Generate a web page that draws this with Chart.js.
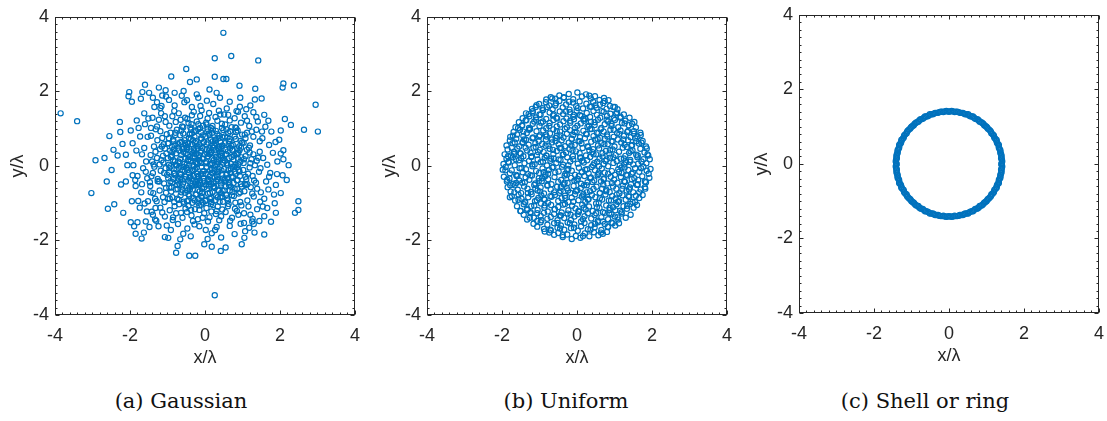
<!DOCTYPE html>
<html>
<head>
<meta charset="utf-8">
<script src="https://cdn.jsdelivr.net/npm/chart.js@4.4.1/dist/chart.umd.min.js"></script>
<style>
  body { margin: 0; background: #fff; width: 1107px; height: 421px; position: relative; overflow: hidden; }
  .panel { position: absolute; width: 370px; height: 369px; }
  .caption { position: absolute; top: 388px; font: 21px "DejaVu Serif", serif; line-height: 26px; color: #111; transform: translateX(-50%); white-space: nowrap; }
</style>
</head>
<body>
<div class="panel" style="left:0;top:0"><canvas id="c1" width="370" height="369"></canvas></div>
<div class="panel" style="left:372px;top:0"><canvas id="c2" width="370" height="369"></canvas></div>
<div class="panel" style="left:744px;top:-2px"><canvas id="c3" width="370" height="369"></canvas></div>
<div class="caption" id="cap1" style="left:181px"></div>
<div class="caption" id="cap2" style="left:566px"></div>
<div class="caption" id="cap3" style="left:925px"></div>
<script>
// axis ticks and captions
const tickValues = [-4, -2, 0, 2, 4];
const captions = ['(a) Gaussian', '(b) Uniform', '(c) Shell or ring'];

// (a) gaussian cloud: sparse tail points, then the dense middle
const gaussianTail = [
  [-3.85,1.41],[-3.41,1.20],[-2.92,.15],[-3.03,-.73],[-2.68,.21],[-2.62,-.42],[-2.55,.80],[-2.49,-.11],[-2.59,-1.15],[-2.42,-1.03],
  [-2.44,.43],[-2.33,.28],[-2.27,1.18],[-2.24,-.50],[-2.20,.59],[-2.18,-1.26],[-2.11,.30],[-2.11,-.42],[-2.07,.02],[-2.02,1.98],
  [-2.04,1.87],[-1.95,1.72],[-1.98,.95],[-1.95,-.95],[-1.98,-1.51],[-1.89,-1.62],[-1.85,-1.82],[-1.69,-1.95],[-1.63,-1.79],[-1.80,-1.51],
  [-1.67,1.98],[-1.60,2.18],[-1.71,1.80],[-1.49,1.96],[-1.93,-.25],[-1.85,-.54],[-1.78,-.94],[-1.58,-1.49],[-1.48,-1.64],[-1.39,-1.31],
  [-1.32,-1.13],[-1.23,2.10],[-1.14,1.89],[-1.05,2.03],[-1.04,1.86],[-1.16,1.61],[-1.39,1.83],[-.90,2.40],[-.81,1.96],[-.57,2.01],
  [-.50,2.60],[-.48,1.76],[-.40,2.25],[-.22,2.32],[-.18,1.83],[.26,2.89],[.49,3.57],[.70,2.95],[.26,2.39],[.49,2.33],
  [.57,2.33],[1.42,2.83],[1.34,2.07],[1.51,1.81],[2.09,2.21],[2.07,2.10],[2.37,2.16],[2.13,1.26],[2.29,1.10],[2.95,1.64],
  [2.64,.97],[3.01,.92],[2.02,.95],[1.98,.70],[2.09,.42],[2.02,.33],[2.09,.18],[2.18,-.38],[2.07,-.25],[2.02,-.73],
  [1.89,-.51],[1.86,-1.00],[1.89,-1.26],[1.76,-1.50],[1.58,-1.84],[1.58,-1.35],[1.54,-1.09],[2.40,-1.26],[2.49,-.95],[2.49,-1.18],
  [.26,-3.47],[-.42,-2.41],[-.26,-2.41],[.42,-2.28],[.55,-2.19],[.18,-2.17],[-.02,-2.10],[-.73,-2.15],[-.66,-1.97],[-1.07,-1.91],
  [-.98,-1.93],[.98,-2.10],[1.05,-1.93],[1.32,-1.79],[1.07,-1.75],[1.30,-1.56],[1.04,-1.53],
  [1.55,.21],[1.63,-.42],[1.71,.56],[1.58,-.88],[1.66,.03],[1.74,-.19],[1.53,.74],[1.81,.35],[1.61,1.05],[1.69,-.63],
  [-1.54,-.33],[-1.62,.48],[-1.70,-.71],[-1.57,.12],[-1.65,-.06],[-1.73,.79],[-1.52,-.95],[-1.80,-.27],[-1.60,1.12],[-1.68,.31],
  [-.35,1.58],[.22,1.66],[-.81,1.62],[.58,1.54],[.05,1.75],[-.12,1.61],[.93,1.59],[-.55,1.71],[.40,1.83],[1.10,1.52],
  [-.28,-1.57],[.31,-1.64],[-.72,-1.56],[.66,-1.61],[.02,-1.72],[-.47,-1.68],[.95,-1.55],[-1.02,-1.60],[.18,-1.81],[-.15,-1.62]
];
const gaussianMid = [
  [-1.62,1.41],[-1.35,1.58],[-1.82,1.22],[-1.51,1.27],[-1.28,1.71],[-1.93,.61],[-1.77,1.02],[-1.44,1.02],[-1.19,1.55],[-.96,1.77],
  [-1.86,-.38],[-1.74,-1.12],[-1.55,-1.22],[-1.68,-.49],[-1.91,.02],[-1.24,-1.62],[-.91,-1.72],[-1.61,-1.01],[-1.83,.41],[-1.45,-.71],
  [.66,1.72],[1.21,1.62],[.94,1.83],[1.58,1.37],[1.77,.92],[1.88,.64],[1.33,1.78],[.31,1.96],[-.22,1.92],[1.69,1.21],
  [1.92,-.22],[1.84,-.77],[1.66,-1.13],[1.45,-1.48],[1.18,-1.66],[.79,-1.83],[.43,-1.92],[-.38,-1.89],[1.93,.12],[1.71,-.29],
  [-.62,1.88],[.12,2.05],[-1.07,1.33],[.84,1.47],[1.52,.92],[1.49,-.71],[.27,-1.72],[-.85,-1.38],[-1.53,.78],[-1.58,-.16],
  [.51,1.38],[1.37,1.31],[-1.33,-1.44],[.07,-1.96],[1.26,-1.49],[-.58,-1.82],[2.23,.02],[-2.26,.91],[.92,2.15],[-.77,-2.33]
];
const gaussianCore = [
  [.03,.12],[.11,.41],[.19,.07],[.27,.33],[.36,.18],[.44,.46],[.08,.26],[.15,.02],[.22,.49],[.31,.11],[.39,.37],[.47,.21],[.05,.44],[.13,.31],[.24,.16],[.33,.04],[.41,.28],[.49,.09],[.17,.38],[.29,.24],[.37,.47],[.45,.34],
  [-.04,.19],[-.12,.36],[-.21,.05],[-.29,.42],[-.38,.14],[-.46,.29],[-.07,.48],[-.16,.23],[-.25,.10],[-.33,.34],[-.42,.01],[-.49,.45],[-.02,.31],[-.10,.08],[-.19,.47],[-.28,.26],[-.36,.39],[-.44,.17],[-.14,.13],[-.23,.32],[-.31,.02],[-.40,.24],
  [-.06,-.15],[-.14,-.39],[-.22,-.04],[-.31,-.27],[-.39,-.46],[-.47,-.11],[-.03,-.33],[-.11,-.22],[-.19,-.48],[-.27,-.09],[-.35,-.36],[-.43,-.19],[-.09,-.02],[-.17,-.29],[-.26,-.43],[-.34,-.14],[-.41,-.31],[-.49,-.05],[-.13,-.45],[-.21,-.21],[-.30,-.01],[-.45,-.40],
  [.02,-.21],[.10,-.44],[.18,-.06],[.26,-.30],[.35,-.17],[.43,-.42],[.07,-.37],[.14,-.12],[.23,-.47],[.31,-.25],[.40,-.03],[.48,-.34],[.04,-.03],[.12,-.28],[.20,-.20],[.29,-.41],[.37,-.09],[.46,-.23],[.16,-.49],[.25,-.14],[.33,-.36],[.42,-.47],
  [.04,.58],[.12,.83],[.21,.66],[.29,.94],[.38,.52],[.46,.77],[.07,.99],[.16,.71],[.25,.55],[.33,.86],[.42,.63],[.49,.96],[.01,.79],[.19,.89],[.28,.61],[.36,.74],[.45,.54],
  [-.03,.64],[-.11,.91],[-.20,.53],[-.28,.78],[-.37,.97],[-.45,.60],[-.06,.82],[-.15,.57],[-.24,.93],[-.32,.69],[-.41,.84],[-.48,.51],[-.09,.73],[-.18,.98],[-.27,.62],[-.35,.87],[-.43,.75],
  [.05,-.62],[.13,-.88],[.22,-.55],[.30,-.79],[.39,-.96],[.47,-.67],[.08,-.74],[.17,-.97],[.26,-.59],[.34,-.84],[.43,-.52],[.02,-.91],[.11,-.53],[.20,-.70],[.28,-.92],[.37,-.65],[.46,-.82],
  [-.02,-.57],[-.10,-.81],[-.18,-.64],[-.27,-.93],[-.35,-.54],[-.44,-.76],[-.06,-.98],[-.14,-.68],[-.23,-.51],[-.31,-.86],[-.40,-.62],[-.48,-.95],[-.08,-.73],[-.17,-.89],[-.25,-.77],[-.34,-.99],[-.42,-.58],
  [.53,.14],[.61,.39],[.69,.06],[.78,.28],[.86,.47],[.94,.11],[.56,.32],[.64,.21],[.73,.44],[.81,.02],[.89,.35],[.97,.23],[.59,.03],[.67,.48],[.76,.17],[.84,.31],[.92,.42],
  [-.52,.22],[-.60,.46],[-.68,.09],[-.77,.34],[-.85,.16],[-.93,.41],[-.55,.05],[-.63,.29],[-.72,.49],[-.80,.12],[-.88,.27],[-.96,.03],[-.58,.38],[-.66,.19],[-.75,.01],[-.83,.44],[-.91,.24],
  [.51,-.08],[.60,-.33],[.68,-.19],[.76,-.46],[.85,-.04],[.93,-.27],[.54,-.41],[.62,-.12],[.71,-.29],[.79,-.15],[.87,-.38],[.96,-.49],[.57,-.24],[.65,-.47],[.74,-.02],[.82,-.21],[.90,-.11],
  [-.54,-.13],[-.62,-.37],[-.70,-.05],[-.79,-.26],[-.87,-.44],[-.95,-.17],[-.51,-.29],[-.59,-.48],[-.67,-.22],[-.76,-.09],[-.84,-.35],[-.92,-.01],[-.57,-.03],[-.65,-.31],[-.73,-.42],[-.81,-.19],[-.98,-.33],
  [.53,.61],[.62,.88],[.70,.54],[.79,.79],[.87,.95],[.95,.67],[.57,.98],[.66,.72],[.74,.57],[.83,.91],[.91,.52],[.99,.84],[.60,.76],
  [-.54,.69],[-.63,.95],[-.71,.58],[-.80,.82],[-.88,.51],[-.96,.74],[-.58,.87],[-.67,.63],[-.75,.97],[-.84,.66],[-.92,.89],[-.51,.55],[-.99,.60],
  [.52,-.66],[.61,-.93],[.69,-.56],[.77,-.81],[.86,-.61],[.94,-.97],[.56,-.78],[.64,-.52],[.73,-.70],[.81,-.99],[.90,-.74],[.98,-.55],[.59,-.87],
  [-.53,-.72],[-.61,-.55],[-.70,-.91],[-.78,-.63],[-.87,-.84],[-.95,-.58],[-.57,-.96],[-.65,-.79],[-.74,-.51],[-.82,-.97],[-.90,-.69],[-.99,-.88],[-.60,-.64],
  [1.04,.18],[1.12,.43],[1.21,.07],[1.29,.31],[1.38,.14],[1.46,.38],[1.08,.26],[1.17,.49],[1.33,.02],[1.42,.22],
  [-1.03,.33],[-1.11,.09],[-1.20,.45],[-1.28,.21],[-1.37,.04],[-1.45,.29],[-1.07,.47],[-1.16,.15],[-1.32,.38],[-1.41,.12],
  [1.02,-.11],[1.10,-.36],[1.19,-.04],[1.27,-.27],[1.36,-.45],[1.44,-.16],[1.06,-.48],[1.15,-.21],[1.31,-.39],[1.48,-.06],
  [-1.01,-.24],[-1.09,-.47],[-1.18,-.13],[-1.26,-.35],[-1.35,-.02],[-1.43,-.28],[-1.05,-.06],[-1.22,-.42],[-1.39,-.19],[-1.47,-.44],
  [.03,1.16],[.11,1.42],[.20,1.07],[.28,1.31],[.37,1.48],[.45,1.13],[.07,1.27],[.16,1.02],[.33,1.21],[.41,1.38],
  [-.05,1.08],[-.13,1.34],[-.22,1.19],[-.30,1.45],[-.39,1.03],[-.47,1.26],[-.09,1.49],[-.18,1.12],[-.35,1.36],[-.44,1.15],
  [.04,-1.13],[.12,-1.38],[.21,-1.05],[.29,-1.29],[.38,-1.46],[.46,-1.17],[.08,-1.49],[.17,-1.22],[.34,-1.09],[.43,-1.35],
  [-.02,-1.27],[-.10,-1.04],[-.19,-1.43],[-.27,-1.16],[-.36,-1.33],[-.44,-1.07],[-.06,-1.39],[-.15,-1.18],[-.32,-1.48],[-.48,-1.24],
  [1.03,.62],[1.12,.89],[1.20,.55],[1.29,.78],[1.37,.97],[1.46,.66],[1.08,.74],[1.25,.92],
  [-1.02,.85],[-1.10,.58],[-1.19,.93],[-1.27,.69],[-1.36,.52],[-1.44,.81],[-1.14,.75],[-1.31,.98],
  [1.05,-.68],[1.13,-.93],[1.22,-.57],[1.30,-.82],[1.39,-.61],[1.47,-.96],[1.09,-.51],[1.26,-.74],
  [-1.04,-.59],[-1.12,-.84],[-1.21,-.66],[-1.29,-.95],[-1.38,-.73],[-1.46,-.54],[-1.08,-.97],[-1.33,-.88],
  [.54,1.11],[.62,1.37],[.71,1.04],[.79,1.28],[.88,1.45],[.96,1.16],[.66,1.22],[.83,1.02],
  [-.53,1.29],[-.61,1.06],[-.70,1.41],[-.78,1.18],[-.87,1.33],[-.95,1.08],[-.65,1.24],[-.82,1.47],
  [.55,-1.24],[.63,-1.02],[.72,-1.39],[.80,-1.15],[.89,-1.31],[.97,-1.06],[.67,-1.47],[.85,-1.21],
  [-.52,-1.14],[-.60,-1.39],[-.69,-1.03],[-.77,-1.27],[-.86,-1.45],[-.94,-1.19],[-.64,-1.26],[-.81,-1.08],
  [1.06,1.33],[1.18,1.07],[1.29,1.44],[1.41,1.19],[1.12,1.21],
  [-1.05,1.18],[-1.17,1.41],[-1.28,1.06],[-1.40,1.29],[-1.23,1.24],
  [1.04,-1.27],[1.16,-1.09],[1.27,-1.42],[1.39,-1.16],[1.21,-1.31],
  [-1.07,-1.36],[-1.19,-1.12],[-1.30,-1.47],[-1.42,-1.23],[-1.14,-1.25]
];
const gaussianInner = [
  [.14,.05],[-.33,.21],[.52,-.37],[-.08,-.61],[.27,.68],[-.71,.12],[.88,.19],[-.19,-.27],[.41,-.84],[-.56,.47],
  [.06,.33],[-.92,-.41],[.63,.58],[-.27,.95],[.18,-.18],[-.47,-.66],[1.08,-.29],[-.12,.52],[.35,.09],[-.64,-.23],
  [.79,-.61],[-.38,.72],[.01,-.94],[.57,.31],[-1.12,.27],[.24,-.56],[-.21,.08],[.96,.49],[-.79,.89],[.45,1.02],
  [-.03,-.41],[.69,-.08],[-.58,1.04],[.11,.87],[-.95,-.06],[.33,-.29],[-.44,-.93],[.82,.72],[-.16,.29],[1.19,.36],
  [-.68,-.48],[.49,.16],[-.31,-.12],[.04,1.11],[-.87,.37],[.61,-1.08],[-.23,-.77],[.74,.41],[-1.04,-.72],[.29,.42],
  [-.49,.03],[.13,-.72],[.92,-.15],[-.35,.58],[.55,-.55],[-.74,-.88],[.07,.63],[-.15,-1.06],[.38,.81],[-1.21,.04],
  [.85,-.39],[-.52,.32],[.19,.21],[-.06,-.22],[.67,.93],[-.83,-.21],[.31,-1.21],[-.41,.86],[1.03,.08],[-.26,-.49],
  [.47,.54],[-.62,.64],[.09,-.35],[-.98,.61],[.72,-.79],[-.11,.74],[.26,.02],[-.37,-1.18],[.58,-.21],[-.69,.41],
  [.16,-1.02],[-.29,.39],[.99,.63],[-.54,-.36],[.42,.27],[-.17,-.51],[.78,-.02],[-1.09,-.19],[.21,.98],[-.45,.15],
  [.64,-.44],[-.81,.55],[.02,.07],[-.24,.66],[.36,-.67],[-.63,-.71],[.86,.33],[-.09,-.83],[.53,.79],[-1.15,.52],
  [.23,-.43],[-.39,-.28],[.71,.24],[-.13,1.02],[1.13,-.49],[-.77,.02],[.44,-.12],[-.56,-1.01],[.12,.48],[-.33,-.63],
  [.94,-.71],[-.66,.82],[.29,.71],[-.02,-.14],[.59,.07],[-.89,-.58],[.17,-.86],[-.48,.49],[.81,1.03],[-.20,-.36],
  [.37,.44],[-.71,-.34],[.06,.92],[-.99,.21],[.66,-.66],[-.27,.22],[1.24,.18],[-.42,-.81],[.48,-.96],[-.10,.40],
  [.20,.55],[-.60,-.11],[.75,-.30],[-.36,1.12],[.03,-.50],[-.85,.71],[.54,.43],[-.18,-.99],[1.06,.84],[-1.26,-.41],
  [.32,-.16],[-.53,.61],[.89,.04],[-.07,.19],[.43,-.73],[-.73,-.62],[.15,.36],[-.30,.47],[.65,.66],[-.94,-.88]
];

// (b) uniform disk, radius 2 (x and y listed band by band, then extra fill points)
const uniformX = [
  -1.96,-1.88,-1.83,-1.71,-1.66,-1.55,-1.49,-1.40,-1.28,-1.22,-1.13,-1.05,-.97,-.86,-.80,-.71,-.62,-.55,-.44,-.37,-.26,-.18,-.10,.02,.09,.18,.27,.35,.43,.54,.60,.71,.79,.88,.97,1.06,1.14,1.25,1.31,1.42,1.50,1.61,1.72,1.85,1.94,
  -1.98,-1.90,-1.79,-1.74,-1.62,-1.53,-1.45,-1.36,-1.30,-1.19,-1.09,-1.01,-.92,-.84,-.75,-.66,-.58,-.49,-.40,-.31,-.23,-.14,-.05,.05,.13,.22,.31,.39,.48,.57,.66,.74,.83,.93,1.01,1.10,1.19,1.27,1.37,1.46,1.55,1.66,1.77,1.86,1.96,
  -1.93,-1.85,-1.76,-1.68,-1.59,-1.50,-1.43,-1.33,-1.24,-1.16,-1.07,-.99,-.89,-.81,-.73,-.63,-.54,-.46,-.38,-.29,-.20,-.11,-.03,.07,.15,.24,.33,.41,.51,.59,.68,.77,.86,.95,1.03,1.12,1.22,1.29,1.39,1.48,1.58,1.69,1.80,1.90,
  -1.95,-1.87,-1.80,-1.70,-1.61,-1.54,-1.46,-1.37,-1.27,-1.20,-1.11,-1.02,-.94,-.85,-.77,-.68,-.60,-.50,-.42,-.33,-.25,-.16,-.07,.02,.11,.20,.28,.37,.46,.55,.64,.72,.81,.90,.99,1.08,1.17,1.26,1.34,1.44,1.53,1.63,1.74,1.84,1.93,
  -1.88,-1.79,-1.72,-1.62,-1.54,-1.45,-1.36,-1.29,-1.19,-1.10,-1.02,-.93,-.83,-.76,-.67,-.57,-.49,-.41,-.32,-.22,-.14,-.06,.04,.12,.21,.30,.38,.48,.56,.65,.74,.82,.92,1.00,1.09,1.18,1.27,1.36,1.45,1.55,1.65,1.75,1.84,
  -1.85,-1.77,-1.66,-1.58,-1.49,-1.41,-1.32,-1.23,-1.14,-1.05,-.97,-.88,-.79,-.70,-.61,-.53,-.44,-.35,-.27,-.18,-.09,.01,.10,.17,.26,.35,.44,.52,.61,.70,.78,.87,.96,1.05,1.13,1.22,1.32,1.41,1.50,1.60,1.70,1.81,
  -1.78,-1.69,-1.60,-1.52,-1.43,-1.34,-1.25,-1.17,-1.08,-.99,-.90,-.81,-.72,-.63,-.54,-.45,-.36,-.27,-.19,-.10,-.01,.08,.17,.26,.35,.44,.53,.62,.71,.80,.89,.98,1.07,1.16,1.25,1.34,1.43,1.52,1.61,1.70,
  -1.74,-1.65,-1.56,-1.48,-1.38,-1.30,-1.21,-1.12,-1.03,-.95,-.86,-.77,-.68,-.59,-.50,-.41,-.32,-.23,-.14,-.05,.04,.13,.22,.31,.40,.49,.58,.67,.76,.85,.94,1.03,1.12,1.21,1.30,1.39,1.48,1.57,1.66,1.75,
  -1.64,-1.55,-1.46,-1.37,-1.28,-1.18,-1.09,-1.00,-.91,-.82,-.73,-.63,-.54,-.45,-.36,-.27,-.18,-.08,.01,.10,.19,.28,.37,.47,.56,.65,.74,.83,.92,1.01,1.10,1.20,1.29,1.38,1.47,1.57,
  -1.60,-1.51,-1.42,-1.33,-1.24,-1.14,-1.05,-.96,-.87,-.78,-.69,-.59,-.50,-.41,-.32,-.23,-.13,-.04,.05,.14,.23,.32,.42,.51,.60,.69,.78,.87,.96,1.05,1.15,1.24,1.33,1.42,1.51,1.60,
  -1.45,-1.36,-1.27,-1.18,-1.09,-1.00,-.91,-.82,-.73,-.64,-.55,-.46,-.37,-.28,-.19,-.10,-.01,.08,.17,.26,.35,.44,.53,.62,.71,.80,.89,.98,1.07,1.16,1.25,1.40,
  -1.42,-1.33,-1.24,-1.15,-1.06,-.97,-.88,-.79,-.70,-.61,-.52,-.43,-.34,-.25,-.16,-.07,.02,.11,.20,.29,.38,.47,.56,.65,.74,.83,.92,1.01,1.10,1.19,1.30,1.43,
  -1.20,-1.10,-1.01,-.92,-.83,-.74,-.65,-.56,-.47,-.38,-.29,-.20,-.11,-.02,.07,.16,.25,.34,.43,.52,.61,.70,.79,.88,.97,1.08,
  -1.16,-1.06,-.97,-.88,-.79,-.70,-.61,-.52,-.43,-.34,-.25,-.16,-.07,.02,.11,.20,.29,.38,.47,.56,.65,.74,.83,.92,1.02,1.12,
  -.82,-.70,-.58,-.47,-.35,-.22,-.10,.01,.13,.24,.37,.48,.60,.72,.84,
  -.86,-.74,-.61,-.50,-.38,-.26,-.14,-.03,.09,.21,.33,.45,.57,.69,.80
];
const uniformY = [
  .05,.19,.11,.23,.02,.15,.21,.07,.13,.24,.04,.17,.10,.22,.01,.14,.20,.08,.16,.03,.23,.12,.18,.06,.21,.09,.15,.24,.02,.11,.19,.05,.17,.22,.08,.13,.01,.20,.10,.16,.04,.23,.12,.07,.18,
  -.10,-.03,-.20,-.12,-.24,-.06,-.17,-.09,-.22,-.01,-.14,-.19,-.07,-.23,-.11,-.04,-.18,-.15,-.02,-.21,-.08,-.13,-.24,-.05,-.16,-.10,-.20,-.03,-.12,-.22,-.07,-.18,-.01,-.14,-.24,-.09,-.19,-.04,-.11,-.21,-.06,-.16,-.02,-.13,-.08,
  .31,.44,.28,.38,.47,.33,.26,.41,.35,.49,.29,.43,.37,.27,.46,.32,.40,.48,.30,.36,.45,.26,.39,.34,.48,.28,.42,.37,.31,.47,.25,.40,.33,.44,.29,.38,.49,.27,.35,.42,.30,.46,.36,.28,
  -.29,-.42,-.34,-.48,-.27,-.39,-.45,-.31,-.37,-.26,-.47,-.33,-.41,-.28,-.36,-.49,-.30,-.43,-.38,-.26,-.46,-.32,-.40,-.35,-.48,-.27,-.44,-.31,-.39,-.25,-.42,-.34,-.47,-.29,-.37,-.45,-.30,-.41,-.26,-.49,-.33,-.38,-.28,-.44,-.32,
  .55,.68,.61,.73,.52,.64,.70,.57,.74,.51,.66,.59,.71,.54,.63,.75,.58,.69,.53,.62,.72,.56,.67,.60,.74,.51,.65,.70,.55,.61,.73,.58,.66,.52,.71,.63,.57,.69,.54,.74,.60,.67,.52,
  -.57,-.69,-.52,-.64,-.73,-.55,-.61,-.70,-.51,-.66,-.58,-.74,-.53,-.63,-.71,-.56,-.67,-.50,-.60,-.72,-.54,-.65,-.59,-.75,-.52,-.68,-.62,-.56,-.73,-.50,-.64,-.70,-.55,-.61,-.74,-.53,-.66,-.58,-.71,-.51,-.63,-.57,
  .78,.91,.84,.97,.80,.88,.99,.76,.93,.82,.95,.79,.87,.98,.81,.92,.76,.86,.96,.83,.90,.77,.94,.85,.99,.80,.89,.75,.92,.84,.97,.78,.88,.95,.81,.91,.77,.86,.79,.83,
  -.81,-.93,-.77,-.88,-.98,-.84,-.76,-.95,-.86,-.79,-.91,-.99,-.83,-.78,-.94,-.87,-.80,-.97,-.85,-.76,-.92,-.82,-.96,-.89,-.78,-.84,-.99,-.90,-.77,-.93,-.81,-.87,-.95,-.79,-.91,-.83,-.97,-.80,-.86,-.78,
  1.04,1.17,1.09,1.22,1.02,1.13,1.24,1.07,1.19,1.01,1.15,1.23,1.06,1.11,1.20,1.03,1.16,1.25,1.08,1.14,1.21,1.05,1.18,1.10,1.24,1.02,1.12,1.19,1.07,1.23,1.04,1.15,1.21,1.09,1.13,1.03,
  -1.08,-1.21,-1.03,-1.15,-1.24,-1.06,-1.18,-1.01,-1.12,-1.22,-1.05,-1.16,-1.10,-1.25,-1.02,-1.19,-1.07,-1.14,-1.23,-1.04,-1.17,-1.09,-1.21,-1.01,-1.13,-1.24,-1.06,-1.18,-1.11,-1.03,-1.20,-1.08,-1.15,-1.02,-1.12,-1.05,
  1.28,1.41,1.33,1.47,1.30,1.38,1.49,1.26,1.43,1.35,1.29,1.46,1.39,1.27,1.44,1.32,1.48,1.36,1.26,1.42,1.31,1.47,1.37,1.29,1.45,1.34,1.40,1.27,1.43,1.32,1.38,1.29,
  -1.31,-1.44,-1.27,-1.39,-1.48,-1.34,-1.26,-1.42,-1.37,-1.29,-1.46,-1.33,-1.40,-1.28,-1.45,-1.36,-1.30,-1.49,-1.35,-1.27,-1.41,-1.32,-1.47,-1.38,-1.26,-1.43,-1.30,-1.36,-1.44,-1.28,-1.39,-1.31,
  1.53,1.58,1.66,1.55,1.71,1.62,1.52,1.68,1.74,1.57,1.65,1.51,1.70,1.60,1.73,1.54,1.67,1.59,1.72,1.56,1.64,1.69,1.53,1.61,1.58,1.52,
  -1.55,-1.63,-1.51,-1.69,-1.58,-1.73,-1.54,-1.66,-1.60,-1.71,-1.52,-1.67,-1.57,-1.74,-1.62,-1.53,-1.70,-1.59,-1.65,-1.51,-1.72,-1.56,-1.64,-1.52,-1.60,-1.54,
  1.78,1.84,1.80,1.89,1.83,1.93,1.79,1.97,1.86,1.92,1.81,1.87,1.77,1.82,1.76,
  -1.76,-1.79,-1.85,-1.80,-1.91,-1.84,-1.96,-1.88,-1.93,-1.81,-1.89,-1.78,-1.86,-1.82,-1.77
];
const uniformFill = [
  [.12,1.34],[-1.45,.62],[.87,-1.12],[-.33,-.45],[1.62,.28],[-.91,1.51],[.46,.07],[-1.78,-.52],[1.04,1.41],[-.08,-1.66],
  [.71,-.36],[-1.22,-1.08],[1.37,-.81],[-.54,.93],[.29,-.91],[-1.63,.18],[.95,.66],[-.21,1.72],[1.81,-.42],[-.77,-.21],
  [.38,1.59],[-1.04,.37],[1.19,-.04],[-.46,-1.33],[.63,.98],[-1.39,-.44],[1.52,.93],[-.12,.41],[.82,-1.63],[-.95,-1.46],
  [.05,-.27],[-1.71,.81],[1.33,.51],[-.62,1.38],[.51,-1.27],[-1.28,.97],[1.71,-.06],[-.31,-.86],[.97,.23],[-.84,.54],
  [.24,.86],[-1.56,-.91],[1.08,-1.38],[-.18,1.21],[1.46,-.36],[-1.11,-.61],[.66,1.47],[-.49,.17],[.16,-1.43],[-1.91,-.12],
  [1.27,1.14],[-.71,-1.71],[.43,.45],[-1.35,1.23],[1.86,.47],[-.03,-.68],[.78,-.68],[-.96,1.16],[.33,1.88],[-1.59,-.27],
  [1.13,.86],[-.38,-1.86],[.58,-.18],[-1.19,.04],[1.66,-.71],[-.57,.66],[.02,1.55],[-1.47,1.08],[.91,-.93],[-.26,-.12],
  [1.41,.11],[-.88,-.89],[.47,1.17],[-1.74,.49],[1.21,-.61],[-.14,.73],[.74,1.74],[-1.06,-1.27],[.19,-.52],[-.66,1.81],
  [1.58,.66],[-.43,-.57],[.88,.42],[-1.31,-.73],[.36,-1.71],[-.82,.28],[1.77,.18],[-.05,1.02],[1.02,-1.19],[-1.52,.34],
  [.55,.72],[-.29,1.46],[1.34,-1.07],[-1.86,-.37],[.14,.14],[-.93,-.33],[.69,-1.49],[-1.18,1.43],[1.49,-.18],[-.60,-1.16],
  [.27,-.09],[-1.41,.71],[1.16,1.29],[-.36,.31],[.83,-.21],[-1.67,-.71],[.41,-.43],[-.74,1.07],[1.69,.89],[-.17,-1.31],
  [.98,.97],[-1.24,-.25],[.07,.66],[-.52,-1.53],[1.43,.39],[-1.01,.79],[.61,-.87],[-.23,.02],[1.28,-.43],[-1.57,1.02],
  [.32,1.08],[-.86,-1.06],[1.91,-.21],[-.42,.48],[.76,.13],[-1.33,-1.18],[.18,-1.12],[-.69,.19],[1.06,-.77],[-1.82,.09],
  [.49,1.63],[-.10,-.96],[1.24,.71],[-.97,1.37],[.64,-1.79],[-1.48,-.06],[.93,-.46],[-.32,.99],[1.55,-.97],[-.79,-.51],
  [.09,.23],[-1.14,1.19],[1.36,.94],[-.47,-.72],[.81,.79],[-1.68,.32],[.26,-.71],[-.58,1.62],[1.62,-.49],[-1.07,-.92],
  [.44,.31],[-.19,-1.54],[1.01,1.58],[-1.37,.49],[.67,-.61],[-.83,.84],[1.88,.31],[-.01,-.39],[.53,-1.11],[-1.26,-1.39],
  [1.17,.19],[-.63,-.03],[.22,1.26],[-1.62,-.46],[.86,-1.27],[-.35,1.84],[1.47,.56],[-.89,-.17],[.35,-.33],[-1.43,.92],
  [.73,.58],[-.08,1.37],[1.31,-.24],[-1.11,.61],[.16,-1.88],[-.71,-.81],[1.72,.62],[-.44,.82],[.59,-.01],[-1.79,-.84],
  [1.09,-.96],[-.27,-.24],[.39,.99],[-1.21,.26],[.95,-1.54],[-.53,1.27],[1.53,1.18],[-.98,-.69],[.13,-.17],[-1.50,-1.21],
  [.79,1.24],[-.37,-1.04],[1.26,.04],[-.80,1.58],[.48,-1.55],[-1.66,.63],[1.39,-.63],[-.15,.55],[.68,.34],[-1.02,-.41],
  [.04,-1.21],[-.64,.43],[1.82,-.61],[-1.29,1.39],[.57,.88],[-.24,-.66],[1.12,-.16],[-.91,.11],[.28,.52],[-1.39,-.96],
  [.92,1.13],[-.45,-1.68],[1.63,.06],[-.67,.71],[.17,-.79],[-1.84,.26],[1.19,-1.24],[-.06,.91],[.61,-.73],[-1.08,1.63]
];

// (c) thin shell near radius 1.41, one quadrant at a time
const ringPts = [
  [1.40,0],[1.42,.07],[1.39,.15],[1.40,.22],[1.37,.29],[1.37,.37],[1.33,.43],[1.33,.51],[1.28,.57],[1.27,.64],[1.21,.70],[1.19,.77],[1.13,.82],[1.10,.89],[1.04,.94],
  [1.00,1.00],[.94,1.04],[.89,1.10],[.82,1.13],[.77,1.19],[.70,1.21],[.64,1.27],[.57,1.28],[.51,1.33],[.43,1.33],[.37,1.37],[.29,1.37],[.22,1.40],[.15,1.39],[.07,1.42],
  [1.41,.04],[1.41,.11],[1.40,.18],[1.39,.26],[1.37,.33],[1.35,.40],[1.33,.47],[1.30,.54],[1.27,.61],[1.24,.67],[1.20,.74],[1.16,.80],[1.12,.86],[1.07,.92],[1.02,.97],
  [.97,1.02],[.92,1.07],[.86,1.12],[.80,1.16],[.74,1.20],[.67,1.24],[.61,1.27],[.54,1.30],[.47,1.33],[.40,1.35],[.33,1.37],[.26,1.39],[.18,1.40],[.11,1.41],[.04,1.41],
  [-1.40,0],[-1.42,.07],[-1.39,.15],[-1.40,.22],[-1.37,.29],[-1.37,.37],[-1.33,.43],[-1.33,.51],[-1.28,.57],[-1.27,.64],[-1.21,.70],[-1.19,.77],[-1.13,.82],[-1.10,.89],[-1.04,.94],
  [-1.00,1.00],[-.94,1.04],[-.89,1.10],[-.82,1.13],[-.77,1.19],[-.70,1.21],[-.64,1.27],[-.57,1.28],[-.51,1.33],[-.43,1.33],[-.37,1.37],[-.29,1.37],[-.22,1.40],[-.15,1.39],[-.07,1.42],
  [-1.41,.04],[-1.41,.11],[-1.40,.18],[-1.39,.26],[-1.37,.33],[-1.35,.40],[-1.33,.47],[-1.30,.54],[-1.27,.61],[-1.24,.67],[-1.20,.74],[-1.16,.80],[-1.12,.86],[-1.07,.92],[-1.02,.97],
  [-.97,1.02],[-.92,1.07],[-.86,1.12],[-.80,1.16],[-.74,1.20],[-.67,1.24],[-.61,1.27],[-.54,1.30],[-.47,1.33],[-.40,1.35],[-.33,1.37],[-.26,1.39],[-.18,1.40],[-.11,1.41],[-.04,1.41],
  [-1.40,-.01],[-1.42,-.07],[-1.39,-.15],[-1.40,-.22],[-1.37,-.29],[-1.37,-.37],[-1.33,-.43],[-1.33,-.51],[-1.28,-.57],[-1.27,-.64],[-1.21,-.70],[-1.19,-.77],[-1.13,-.82],[-1.10,-.89],[-1.04,-.94],
  [-1.00,-1.00],[-.94,-1.04],[-.89,-1.10],[-.82,-1.13],[-.77,-1.19],[-.70,-1.21],[-.64,-1.27],[-.57,-1.28],[-.51,-1.33],[-.43,-1.33],[-.37,-1.37],[-.29,-1.37],[-.22,-1.40],[-.15,-1.39],[-.07,-1.42],
  [-1.41,-.04],[-1.41,-.11],[-1.40,-.18],[-1.39,-.26],[-1.37,-.33],[-1.35,-.40],[-1.33,-.47],[-1.30,-.54],[-1.27,-.61],[-1.24,-.67],[-1.20,-.74],[-1.16,-.80],[-1.12,-.86],[-1.07,-.92],[-1.02,-.97],
  [-.97,-1.02],[-.92,-1.07],[-.86,-1.12],[-.80,-1.16],[-.74,-1.20],[-.67,-1.24],[-.61,-1.27],[-.54,-1.30],[-.47,-1.33],[-.40,-1.35],[-.33,-1.37],[-.26,-1.39],[-.18,-1.40],[-.11,-1.41],[-.04,-1.41],
  [1.40,-.01],[1.42,-.07],[1.39,-.15],[1.40,-.22],[1.37,-.29],[1.37,-.37],[1.33,-.43],[1.33,-.51],[1.28,-.57],[1.27,-.64],[1.21,-.70],[1.19,-.77],[1.13,-.82],[1.10,-.89],[1.04,-.94],
  [1.00,-1.00],[.94,-1.04],[.89,-1.10],[.82,-1.13],[.77,-1.19],[.70,-1.21],[.64,-1.27],[.57,-1.28],[.51,-1.33],[.43,-1.33],[.37,-1.37],[.29,-1.37],[.22,-1.40],[.15,-1.39],[.07,-1.42],
  [1.41,-.04],[1.41,-.11],[1.40,-.18],[1.39,-.26],[1.37,-.33],[1.35,-.40],[1.33,-.47],[1.30,-.54],[1.27,-.61],[1.24,-.67],[1.20,-.74],[1.16,-.80],[1.12,-.86],[1.07,-.92],[1.02,-.97],
  [.97,-1.02],[.92,-1.07],[.86,-1.12],[.80,-1.16],[.74,-1.20],[.67,-1.24],[.61,-1.27],[.54,-1.30],[.47,-1.33],[.40,-1.35],[.33,-1.37],[.26,-1.39],[.18,-1.40],[.11,-1.41],[.04,-1.41],
  [0,1.40],[0,-1.40]
];

const markerColor = '#0072BD';
const axisColor = '#262626';
const minorStep = 0.2;

Chart.defaults.font.family = '"Liberation Sans", Arial, sans-serif';
Chart.defaults.color = axisColor;

// box around the axes with inward major/minor ticks on all four sides
const boxTicks = {
  id: 'boxTicks',
  afterDatasetsDraw(chart) {
    const { ctx, chartArea: a, scales: { x, y } } = chart;
    const left = Math.round(a.left) + 0.5, right = Math.round(a.right) - 0.5;
    const top = Math.round(a.top) + 0.5, bottom = Math.round(a.bottom) - 0.5;
    ctx.save();
    ctx.strokeStyle = axisColor;
    ctx.lineWidth = 1;
    ctx.beginPath();
    for (let i = -20; i <= 20; i++) {
      const v = i * minorStep;
      const len = i % 10 === 0 ? 4 : 2;
      const px = Math.round(x.getPixelForValue(v)) + 0.5;
      const py = Math.round(y.getPixelForValue(v)) + 0.5;
      ctx.moveTo(px, bottom); ctx.lineTo(px, bottom - len);
      ctx.moveTo(px, top); ctx.lineTo(px, top + len);
      ctx.moveTo(left, py); ctx.lineTo(left + len, py);
      ctx.moveTo(right, py); ctx.lineTo(right - len, py);
    }
    ctx.stroke();
    ctx.strokeRect(left, top, right - left, bottom - top);
    ctx.restore();
  }
};

function axis(title, fit) {
  return {
    type: 'linear', min: -4, max: 4,
    afterBuildTicks: s => { s.ticks = tickValues.map(v => ({ value: v })); },
    afterFit: fit,
    grid: { display: false, drawTicks: false },
    border: { display: false },
    ticks: { font: { size: 18 }, color: axisColor, maxRotation: 0, autoSkip: false },
    title: { display: true, text: title, font: { size: 18 }, color: axisColor }
  };
}

function scatterPanel(id, points) {
  const x = axis('x/\u03bb', s => { s.height = 54; });
  x.ticks.padding = 10;
  x.title.padding = { top: 0, bottom: 0 };
  const y = axis('y/\u03bb', s => { s.width = 55; });
  y.ticks.padding = 6;
  y.title.padding = { top: 7, bottom: 0 };
  new Chart(document.getElementById(id), {
    type: 'scatter',
    data: {
      datasets: [{
        data: points,
        pointStyle: 'circle',
        pointRadius: 2.6,
        pointBorderWidth: 1.2,
        borderColor: markerColor,
        backgroundColor: 'rgba(0,0,0,0)',
        pointHoverRadius: 2.6
      }]
    },
    options: {
      responsive: false,
      animation: false,
      events: [],
      layout: { padding: { top: 13, right: 12, left: 0, bottom: 0 } },
      plugins: { legend: { display: false }, tooltip: { enabled: false } },
      scales: { x, y }
    },
    plugins: [boxTicks]
  });
}

const toXY = ([x, y]) => ({ x, y });
scatterPanel('c1', gaussianTail.concat(gaussianMid, gaussianCore, gaussianInner).map(toXY));
scatterPanel('c2', uniformX.map((x, i) => ({ x, y: uniformY[i] })).concat(uniformFill.map(toXY)));
scatterPanel('c3', ringPts.map(toXY));

captions.forEach((t, i) => { document.getElementById('cap' + (i + 1)).textContent = t; });
</script>
</body>
</html>
